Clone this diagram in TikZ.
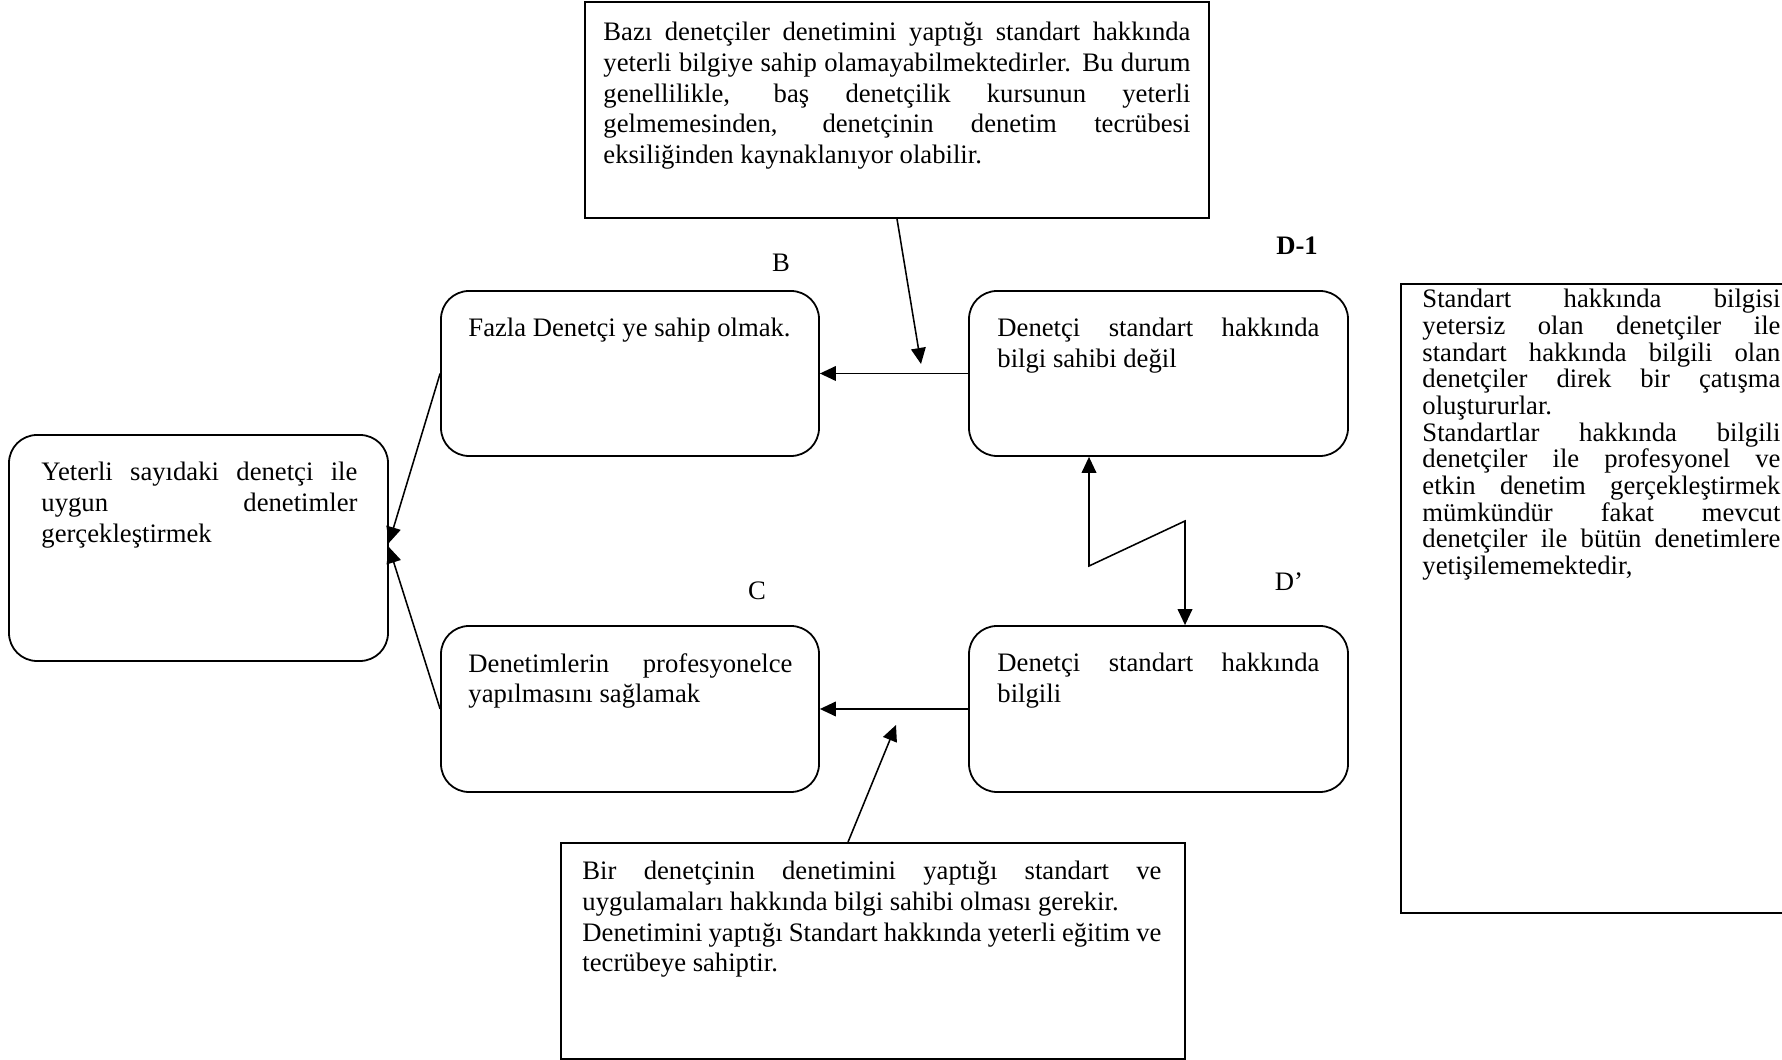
\documentclass[tikz,border=0pt]{standalone}
\usepackage{fontspec}
\setmainfont{Liberation Serif}
\usetikzlibrary{arrows.meta,calc,fit}

\tikzset{
  rbox/.style={draw, line width=0.8pt, rounded corners=12.6pt, inner sep=0pt},
  sqbox/.style={draw, line width=0.8pt, inner sep=0pt},
  txt/.style={inner sep=0pt, anchor=north west, align=justify,
              font=\fontsize{12}{13.8}\selectfont},
  lbl/.style={inner sep=0pt, font=\fontsize{12}{13.8}\selectfont},
  conn/.style={line width=0.7pt, -{Triangle[length=7.2pt,width=6.6pt]}},
  twoway/.style={line width=0.7pt,
    {Triangle[length=7.2pt,width=6.6pt]}-{Triangle[length=7.2pt,width=6.6pt]}}
}

\begin{document}
\begin{tikzpicture}[x=0.45pt,y=-0.45pt]
\useasboundingbox (0,0) rectangle (1782,1060);

% frames
\node[sqbox, fit={(585,2) (1209,218)}] (top) {};
\node[sqbox, fit={(561,843) (1185,1059)}] (bot) {};
\node[sqbox, fit={(1401,284) (1800,913)}] (side) {};
\node[rbox, fit={(9,435) (388,661)}] (goal) {};
\node[rbox, fit={(441,291) (819,456)}] (b) {};
\node[rbox, fit={(969,291) (1348,456)}] (d1) {};
\node[rbox, fit={(441,626) (819,792)}] (c) {};
\node[rbox, fit={(969,626) (1348,792)}] (dp) {};

% texts
\node[txt, text width=587*0.45pt] (toptext) at (603,22) {Bazı denetçiler denetimini yaptığı standart hakkında\linebreak
yeterli bilgiye sahip olamayabilmektedirler. Bu durum\linebreak
genellilikle, baş denetçilik kursunun yeterli\linebreak
gelmemesinden, denetçinin denetim tecrübesi\linebreak
eksiliğinden kaynaklanıyor olabilir.};

\node[txt, text width=316*0.45pt] (goaltext) at (41,462) {Yeterli sayıdaki denetçi ile\linebreak
uygun denetimler\linebreak gerçekleştirmek};

\node[txt, text width=324*0.45pt] (btext) at (468,318) {Fazla Denetçi ye sahip olmak.};
\node[txt, text width=322*0.45pt] (d1text) at (997,318) {Denetçi standart hakkında\linebreak bilgi sahibi değil};
\node[txt, text width=324*0.45pt] (ctext) at (468,653) {Denetimlerin profesyonelce\linebreak yapılmasını sağlamak};
\node[txt, text width=322*0.45pt] (dptext) at (997,653) {Denetçi standart hakkında\linebreak bilgili};

\node[txt, text width=579*0.45pt] (bottext) at (582,861) {Bir denetçinin denetimini yaptığı standart ve\linebreak
uygulamaları hakkında bilgi sahibi olması gerekir.\par
Denetimini yaptığı Standart hakkında yeterli eğitim ve\linebreak
tecrübeye sahiptir.};

\node[txt, text width=358*0.45pt, font=\fontsize{12}{12}\selectfont] (sidetext) at (1422,289) {Standart hakkında bilgisi\linebreak
yetersiz olan denetçiler ile\linebreak
standart hakkında bilgili olan\linebreak
denetçiler direk bir çatışma\linebreak
oluştururlar.\par
Standartlar hakkında bilgili\linebreak
denetçiler ile profesyonel ve\linebreak
etkin denetim gerçekleştirmek\linebreak
mümkündür fakat mevcut\linebreak
denetçiler ile bütün denetimlere\linebreak
yetişilememektedir,};

% labels
\node[lbl] (lb) at (781,263) {B};
\node[lbl, font=\fontsize{12}{13.8}\selectfont\bfseries] (ld1) at (1297,246) {D-1};
\node[lbl] (lc) at (757,591) {C};
\node[lbl] (ldp) at (1289,582) {D’};

% connectors
\draw[conn] (d1.west) -- (b.east);
\draw[conn] (dp.west) -- (c.east);
\draw[conn] (b.west) -- ($(goal.east)+(0,-5)$);
\draw[conn] (c.west) -- ($(goal.east)+(0,-1)$);

\coordinate (tTip) at (921,364);
\draw[conn] (top.south) -- (tTip);
\coordinate (bTip) at (896,725);
\draw[conn] ($(bot.north)+(-25,0)$) -- (bTip);

\coordinate (zA) at (1089,566);
\coordinate (zB) at (1185,521);
\draw[twoway] (d1.south -| zA) -- (zA) -- (zB) -- (zB |- dp.north);
\end{tikzpicture}
\end{document}
